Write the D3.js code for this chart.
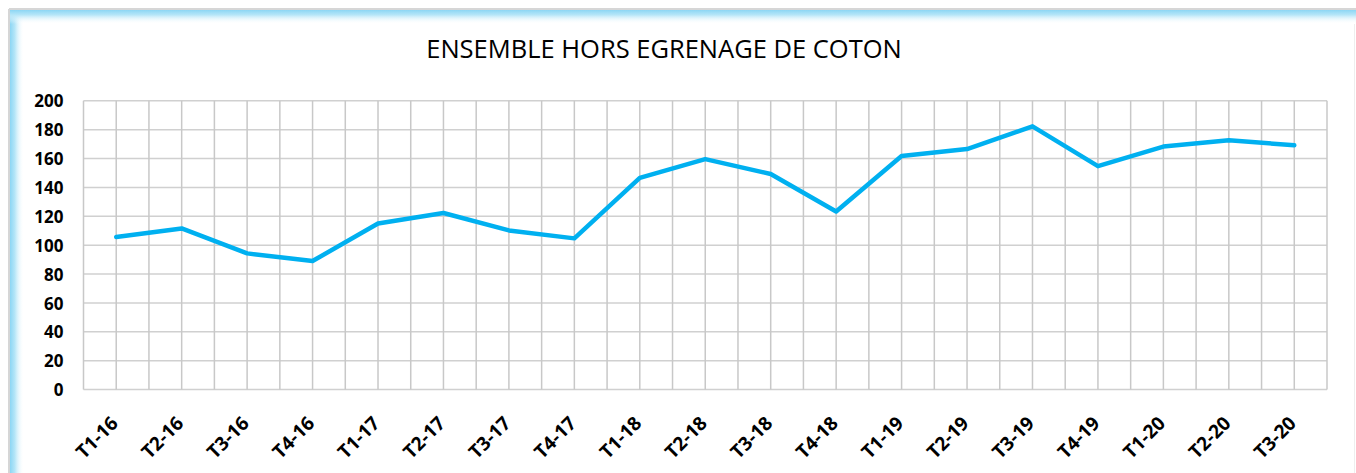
<!DOCTYPE html>
<html>
<head>
<meta charset="utf-8">
<script src="https://cdn.jsdelivr.net/npm/d3@7"></script>
<style>
  html, body { margin: 0; padding: 0; background: #fff; }
  svg { display: block; }
</style>
</head>
<body>
<svg id="chart" width="1356" height="473"></svg>
<script>
const categories = ["T1-16","T2-16","T3-16","T4-16","T1-17","T2-17","T3-17","T4-17","T1-18","T2-18","T3-18","T4-18","T1-19","T2-19","T3-19","T4-19","T1-20","T2-20","T3-20"];
const values = [105.6, 111.6, 94.3, 89, 115, 122.3, 110.2, 104.7, 146.6, 159.6, 149.3, 123.3, 161.8, 166.6, 182.3, 154.7, 168.3, 172.6, 169.2];
const yTicks = [0, 20, 40, 60, 80, 100, 120, 140, 160, 180, 200];
const title = "ENSEMBLE HORS EGRENAGE DE COTON";

const svg = d3.select("#chart");
const W = 1356, H = 473;
const plot = { left: 83.5, right: 1327, top: 100.8, bottom: 389.5 };

// frame with blue inner glow on top/left
const defs = svg.append("defs");
const gL = defs.append("linearGradient").attr("id", "gl").attr("x1", 0).attr("x2", 1).attr("y1", 0).attr("y2", 0);
gL.append("stop").attr("offset", 0).attr("stop-color", "#8cd6f4");
gL.append("stop").attr("offset", 0.35).attr("stop-color", "#b6e6f8");
gL.append("stop").attr("offset", 1).attr("stop-color", "#ffffff").attr("stop-opacity", 0);
const gT = defs.append("linearGradient").attr("id", "gt").attr("x1", 0).attr("x2", 0).attr("y1", 0).attr("y2", 1);
gT.append("stop").attr("offset", 0).attr("stop-color", "#8cd6f4");
gT.append("stop").attr("offset", 0.35).attr("stop-color", "#b6e6f8");
gT.append("stop").attr("offset", 1).attr("stop-color", "#ffffff").attr("stop-opacity", 0);

svg.append("rect").attr("x", 10).attr("y", 10).attr("width", 14).attr("height", H - 10).attr("fill", "url(#gl)");
svg.append("rect").attr("x", 10).attr("y", 10).attr("width", W - 10).attr("height", 14).attr("fill", "url(#gt)");
svg.append("line").attr("x1", 9).attr("x2", 9).attr("y1", 9).attr("y2", H).attr("stroke", "#d6d6d6").attr("stroke-width", 2);
svg.append("line").attr("x1", 9).attr("x2", W).attr("y1", 9).attr("y2", 9).attr("stroke", "#d6d6d6").attr("stroke-width", 2);
svg.append("line").attr("x1", 1354.5).attr("x2", 1354.5).attr("y1", 24).attr("y2", H).attr("stroke", "#eeeeee").attr("stroke-width", 1);

// title
svg.append("text")
  .attr("x", 664).attr("y", 58)
  .attr("text-anchor", "middle")
  .attr("font-family", "Open Sans, sans-serif")
  .attr("font-size", 25.5)
  .attr("fill", "#000")
  .text(title);

const x = d3.scaleBand().domain(categories).range([plot.left, plot.right]).padding(0);
const y = d3.scaleLinear().domain([0, 200]).range([plot.bottom, plot.top]);
const cx = d => x(d) + x.bandwidth() / 2;

// grid
const grid = svg.append("g").attr("stroke", "#d0d0d0").attr("stroke-width", 1.5).attr("fill", "none");
yTicks.forEach(t => {
  grid.append("line").attr("x1", plot.left).attr("x2", plot.right).attr("y1", y(t)).attr("y2", y(t));
});
const vx = [];
categories.forEach(c => { vx.push(x(c)); vx.push(cx(c)); });
vx.push(plot.right);
vx.forEach(v => {
  grid.append("line").attr("x1", v).attr("x2", v).attr("y1", plot.top).attr("y2", plot.bottom).attr("stroke", "#c8c8c8");
});

// y axis
const yAxis = d3.axisLeft(y).tickValues(yTicks).tickSize(0).tickPadding(0);
const ya = svg.append("g").attr("transform", `translate(${plot.left - 20},0)`).call(yAxis);
ya.select(".domain").remove();
ya.selectAll("text")
  .attr("font-family", "Open Sans, sans-serif")
  .attr("font-weight", "bold")
  .attr("font-size", 17)
  .attr("fill", "#000")
  .attr("dy", "0.36em");

// x axis
const xAxis = d3.axisBottom(x).tickSize(0).tickPadding(0);
const xa = svg.append("g").attr("transform", `translate(0,${plot.bottom})`).call(xAxis);
xa.select(".domain").remove();
xa.selectAll("text")
  .attr("font-family", "Open Sans, sans-serif")
  .attr("font-weight", "bold")
  .attr("font-size", 19)
  .attr("fill", "#000")
  .attr("text-anchor", "end")
  .attr("dy", null)
  .attr("y", 0)
  .attr("transform", "translate(3,35) rotate(-45)");

// line
const line = d3.line().x((d, i) => cx(categories[i])).y(d => y(d));
svg.append("path")
  .datum(values)
  .attr("d", line)
  .attr("fill", "none")
  .attr("stroke", "#00b0f0")
  .attr("stroke-width", 4.5)
  .attr("stroke-linejoin", "round")
  .attr("stroke-linecap", "round");
</script>
</body>
</html>
